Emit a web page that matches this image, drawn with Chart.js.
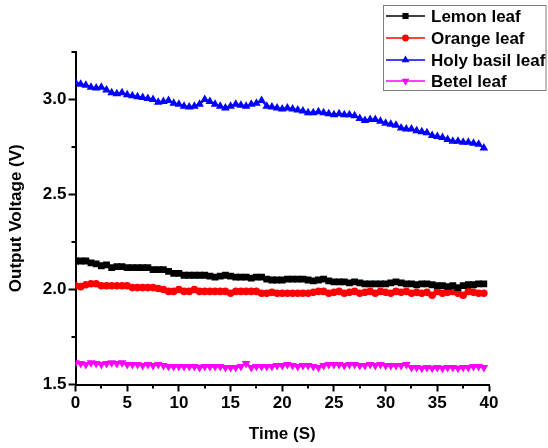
<!DOCTYPE html>
<html>
<head>
<meta charset="utf-8">
<script src="https://cdn.jsdelivr.net/npm/chart.js@4/dist/chart.umd.min.js"></script>
<style>
html,body{margin:0;padding:0;background:#fff;}
#wrap{width:548px;height:448px;position:relative;}
</style>
</head>
<body>
<div id="wrap"><canvas id="c" width="548" height="448"></canvas></div>
<script>
const times = [0,0.5,1,1.5,2,2.5,3,3.5,4,4.5,5,5.5,6,6.5,7,7.5,8,8.5,9,9.5,
  10,10.5,11,11.5,12,12.5,13,13.5,14,14.5,15,15.5,16,16.5,17,17.5,18,18.5,19,19.5,
  20,20.5,21,21.5,22,22.5,23,23.5,24,24.5,25,25.5,26,26.5,27,27.5,28,28.5,29,29.5,
  30,30.5,31,31.5,32,32.5,33,33.5,34,34.5,35,35.5,36,36.5,37,37.5,38,38.5,39,39.5];

const lemonLeaf = [2.15,2.15,2.15,2.14,2.135,2.125,2.13,2.115,2.12,2.12,
  2.115,2.115,2.115,2.115,2.115,2.105,2.105,2.105,2.095,2.085,
  2.085,2.075,2.075,2.075,2.075,2.075,2.07,2.065,2.07,2.075,
  2.07,2.065,2.065,2.065,2.06,2.065,2.065,2.055,2.05,2.05,
  2.05,2.055,2.055,2.055,2.055,2.05,2.045,2.05,2.055,2.045,
  2.04,2.04,2.04,2.035,2.04,2.035,2.03,2.03,2.03,2.03,
  2.03,2.035,2.04,2.035,2.03,2.03,2.025,2.03,2.03,2.025,
  2.02,2.02,2.015,2.02,2.01,2.02,2.025,2.025,2.03,2.03];

const orangeLeaf = [2.02,2.015,2.025,2.03,2.03,2.02,2.02,2.02,2.02,2.02,
  2.02,2.01,2.01,2.01,2.01,2.01,2.005,2.0,1.99,1.99,
  2.0,1.99,1.99,2.0,1.99,1.99,1.99,1.99,1.99,1.99,
  1.98,1.99,1.99,1.99,1.99,1.99,1.98,1.98,1.985,1.98,
  1.98,1.98,1.98,1.98,1.98,1.98,1.985,1.99,1.99,1.98,
  1.985,1.99,1.98,1.985,1.99,1.98,1.985,1.99,1.98,1.99,
  1.985,1.98,1.99,1.985,1.99,1.98,1.985,1.98,1.985,1.97,
  1.99,1.98,1.985,1.99,1.98,1.97,1.99,1.985,1.98,1.98];

const holyBasilLeaf = [3.09,3.08,3.075,3.065,3.06,3.065,3.05,3.035,3.03,3.035,
  3.025,3.02,3.015,3.01,3.005,3.0,2.985,2.99,2.995,2.98,
  2.975,2.965,2.96,2.965,2.975,3.0,2.99,2.975,2.965,2.955,
  2.965,2.975,2.97,2.965,2.975,2.98,2.995,2.965,2.96,2.955,
  2.95,2.955,2.95,2.945,2.94,2.93,2.93,2.935,2.93,2.925,
  2.92,2.925,2.92,2.92,2.915,2.9,2.89,2.895,2.895,2.885,
  2.875,2.87,2.865,2.85,2.845,2.845,2.835,2.83,2.825,2.81,
  2.805,2.8,2.79,2.78,2.78,2.775,2.775,2.77,2.765,2.745];

const betelLeaf = [1.615,1.61,1.605,1.615,1.61,1.605,1.61,1.615,1.61,1.615,
  1.605,1.605,1.605,1.6,1.605,1.6,1.605,1.6,1.595,1.595,
  1.595,1.595,1.595,1.595,1.59,1.595,1.595,1.595,1.595,1.59,
  1.59,1.59,1.595,1.61,1.59,1.595,1.595,1.595,1.595,1.6,
  1.6,1.605,1.6,1.595,1.6,1.6,1.595,1.59,1.6,1.605,
  1.605,1.605,1.6,1.605,1.605,1.6,1.6,1.605,1.6,1.605,
  1.6,1.6,1.6,1.6,1.605,1.59,1.59,1.585,1.59,1.585,
  1.59,1.585,1.59,1.59,1.585,1.59,1.59,1.595,1.595,1.59];

const seriesNames = ['Lemon leaf','Orange leaf','Holy basil leaf','Betel leaf'];
const xMajorTicks = [0,5,10,15,20,25,30,35,40];
const xMinorTicks = [2.5,7.5,12.5,17.5,22.5,27.5,32.5,37.5];
const yMajorTicks = [1.5,2.0,2.5,3.0];
const yMinorTicks = [1.75,2.25,2.75,3.25];

const FONT = "'Liberation Sans', Arial, sans-serif";

function pts(vals){ return times.map((t,i)=>({x:t,y:vals[i]})); }

const styles = [
  {color:'#000000', pointStyle:'rect', radius:4.8, rotation:0},
  {color:'#ff0000', pointStyle:'circle', radius:3.8, rotation:0},
  {color:'#0000ff', pointStyle:'triangle', radius:5, rotation:0},
  {color:'#ff00ff', pointStyle:'triangle', radius:5, rotation:180}
];
const seriesData = [lemonLeaf, orangeLeaf, holyBasilLeaf, betelLeaf];

const datasets = seriesData.map((vals,i)=>({
  label: seriesNames[i],
  data: pts(vals),
  borderColor: styles[i].color,
  backgroundColor: styles[i].color,
  pointBackgroundColor: styles[i].color,
  pointBorderColor: styles[i].color,
  pointBorderWidth: 0,
  pointStyle: styles[i].pointStyle,
  pointRadius: styles[i].radius,
  pointRotation: styles[i].rotation,
  borderWidth: 2,
  tension: 0,
  fill: false
}));

const extras = {
  id: 'extras',
  afterDraw(chart){
    const ctx = chart.ctx;
    const xs = chart.scales.x, ys = chart.scales.y;
    ctx.save();
    ctx.strokeStyle = '#000';
    ctx.lineWidth = 2;
    ctx.beginPath();
    xMinorTicks.forEach(v=>{
      const px = Math.round(xs.getPixelForValue(v));
      ctx.moveTo(px, ys.bottom); ctx.lineTo(px, ys.bottom + 4);
    });
    yMinorTicks.forEach(v=>{
      const py = Math.round(ys.getPixelForValue(v));
      ctx.moveTo(xs.left, py); ctx.lineTo(xs.left - 4, py);
    });
    ctx.stroke();

    // legend
    ctx.lineWidth = 1;
    ctx.strokeStyle = '#7f7f7f';
    ctx.strokeRect(383.5, 5.5, 162.5, 85);
    const rows = [16, 38, 60, 81];
    ctx.font = "bold 17px " + FONT;
    ctx.textBaseline = 'middle';
    ctx.textAlign = 'left';
    seriesNames.forEach((name,i)=>{
      const y = rows[i];
      ctx.strokeStyle = styles[i].color;
      ctx.lineWidth = 1.5;
      ctx.beginPath(); ctx.moveTo(386, y); ctx.lineTo(425, y); ctx.stroke();
      ctx.fillStyle = styles[i].color;
      Chart.helpers.drawPoint(ctx, {pointStyle: styles[i].pointStyle, radius: styles[i].radius * 0.9, rotation: styles[i].rotation, borderWidth: 0}, 405.5, y);
      ctx.fillStyle = '#000';
      ctx.fillText(name, 431, y + 1);
    });
    ctx.restore();
  }
};

new Chart(document.getElementById('c'), {
  type: 'line',
  data: { datasets },
  options: {
    responsive: false,
    animation: false,
    devicePixelRatio: 1,
    layout: { padding: { left: 0, right: 59, top: 52, bottom: 0 } },
    plugins: { legend: { display: false }, tooltip: { enabled: false } },
    elements: { line: { borderJoinStyle: 'round' } },
    scales: {
      x: {
        type: 'linear', min: 0, max: 40,
        afterFit(s){ s.height = 63.5; },
        afterBuildTicks(s){ s.ticks = xMajorTicks.map(v=>({value:v})); },
        ticks: { stepSize: 5, color: '#000', font: { family: FONT, size: 17, weight: 'bold' }, padding: 2, maxRotation: 0,
          callback: v => String(v) },
        grid: { display: true, drawOnChartArea: false, drawTicks: true, tickLength: 7, tickWidth: 2, tickColor: '#000' },
        border: { display: true, color: '#000', width: 2 },
        title: { display: true, text: 'Time (S)', color: '#000', font: { family: FONT, size: 17, weight: 'bold' }, padding: { top: 0, bottom: 3 } }
      },
      y: {
        type: 'linear', min: 1.5, max: 3.25,
        afterFit(s){ s.width = 75.5; },
        afterBuildTicks(s){ s.ticks = yMajorTicks.map(v=>({value:v})); },
        ticks: { stepSize: 0.5, color: '#000', font: { family: FONT, size: 17, weight: 'bold' }, padding: 2,
          callback: v => Number(v).toFixed(1) },
        grid: { display: true, drawOnChartArea: false, drawTicks: true, tickLength: 7, tickWidth: 2, tickColor: '#000' },
        border: { display: true, color: '#000', width: 2 },
        title: { display: true, text: 'Output Voltage (V)', color: '#000', font: { family: FONT, size: 17, weight: 'bold' }, padding: { top: 6.5, bottom: 0 } }
      }
    }
  },
  plugins: [extras]
});
</script>
</body>
</html>
